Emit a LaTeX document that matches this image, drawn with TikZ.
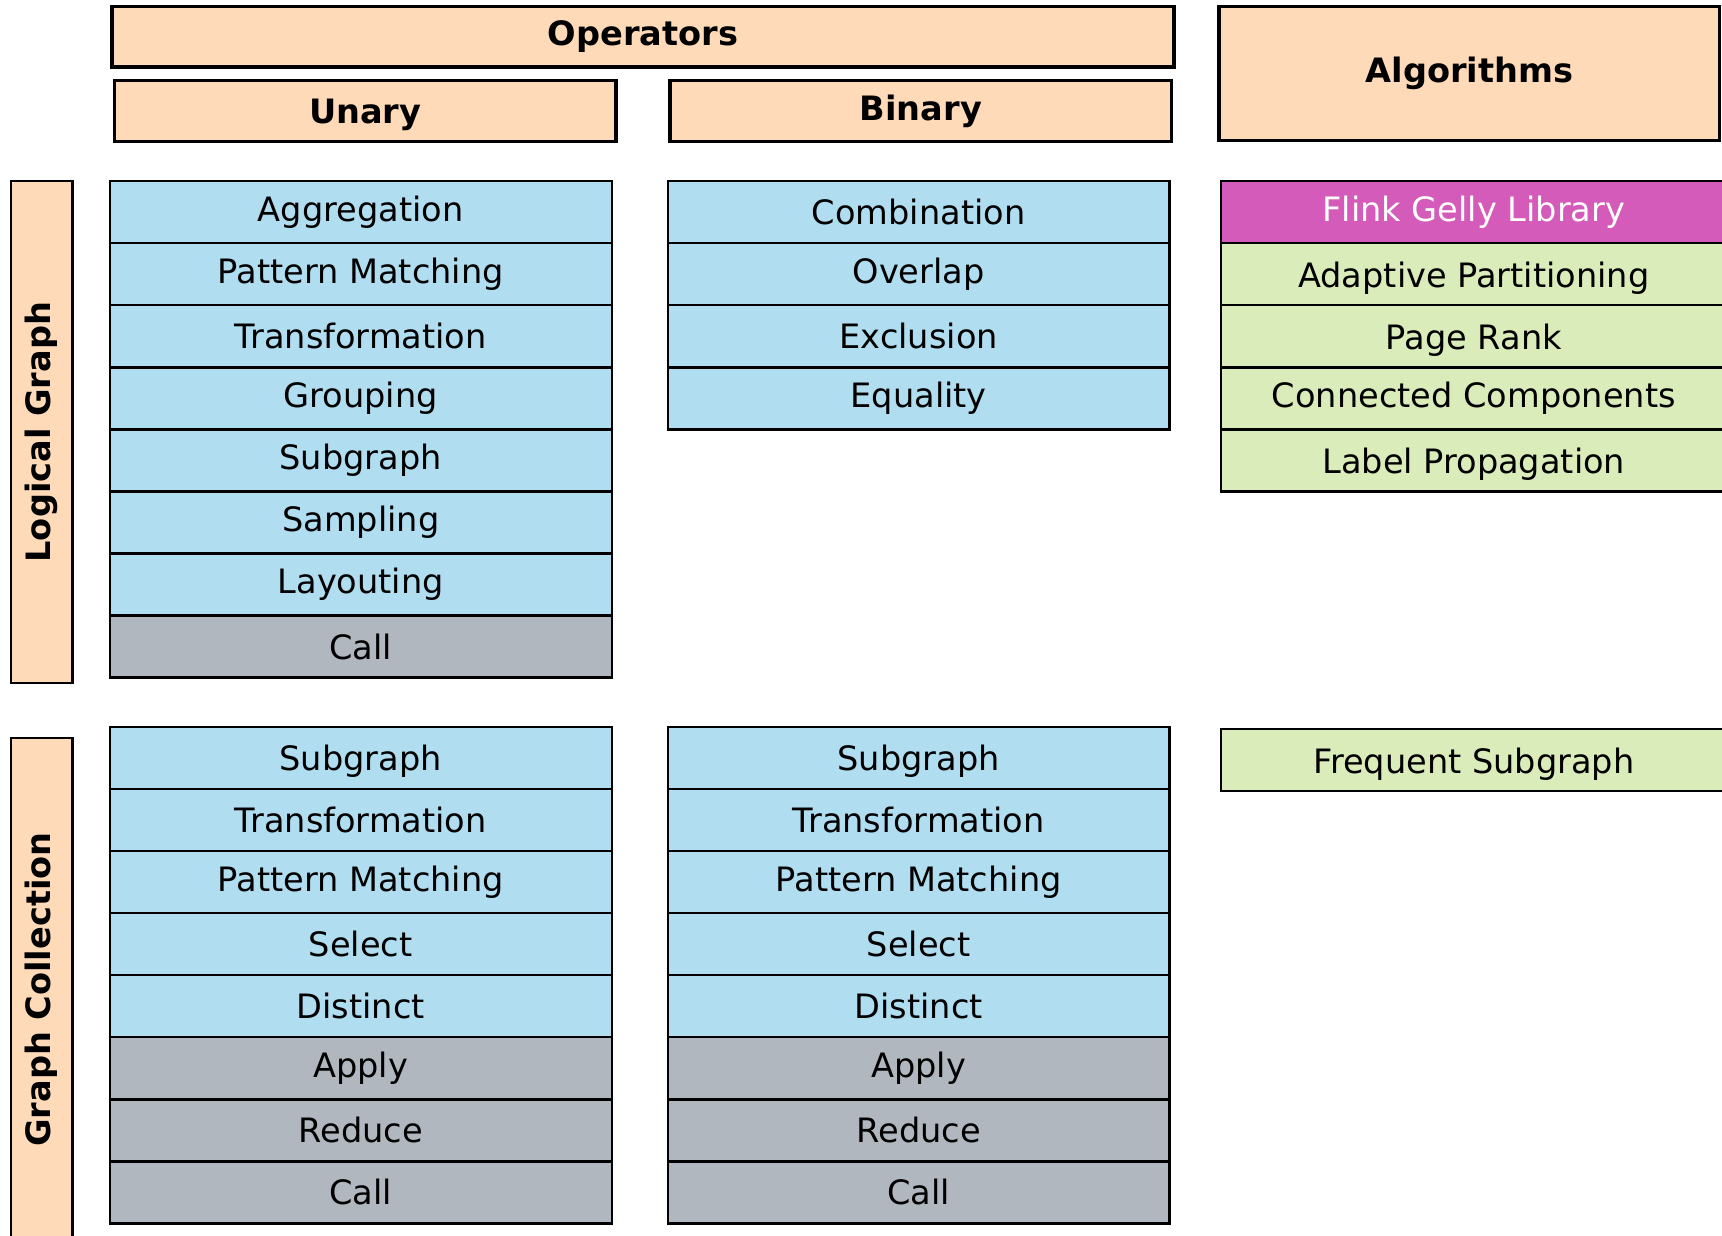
\documentclass[tikz,border=0pt]{standalone}
\usepackage{fontspec}
\setmainfont{DejaVu Sans}
\usetikzlibrary{positioning}

\definecolor{hdrpeach}{RGB}{255,218,185}
\definecolor{opblue}{RGB}{176,221,240}
\definecolor{opgray}{RGB}{176,183,190}
\definecolor{gellypink}{RGB}{213,91,186}
\definecolor{algogreen}{RGB}{219,236,187}

\tikzset{
  cell/.style={draw,line width=0.6pt,minimum width=4.57cm,minimum height=0.565cm,
    inner sep=0pt,outer sep=0pt,font=\fontsize{8.7}{10}\selectfont},
  opcell/.style={cell,fill=opblue},
  callcell/.style={cell,fill=opgray},
  algocell/.style={cell,fill=algogreen,minimum width=4.6cm,text depth=0pt},
  head/.style={draw,line width=0.85pt,fill=hdrpeach,inner sep=0pt,outer sep=0pt,
    font=\fontsize{8.7}{10}\selectfont\bfseries},
  side/.style={draw,line width=0.6pt,fill=hdrpeach,inner sep=0pt,outer sep=0pt,
    minimum height=0.56cm,rotate=90,font=\fontsize{8.7}{10}\selectfont\bfseries},
  node distance=0pt
}

\begin{document}
\begin{tikzpicture}
  \useasboundingbox (0,0) rectangle (15.68,-11.25);
  % headers
  \node[head,minimum width=9.67cm,minimum height=0.55cm] (ops) at (5.855,-0.335) {Operators};
  \node[head,minimum width=4.57cm,minimum height=0.56cm,text depth=0pt] (unary) at (3.325,-1.01) {Unary};
  \node[head,minimum width=4.57cm,minimum height=0.56cm] (binary) at (8.385,-1.01) {Binary};
  \node[head,minimum width=4.56cm,minimum height=1.22cm] (algos) at (13.38,-0.67) {Algorithms};
  \node[side,minimum width=4.57cm] (logical) at (0.38,-3.935) {Logical Graph};
  \node[side,minimum width=4.58cm] (collection) at (0.38,-9.01) {Graph Collection};

  % logical graph, unary
  \node[opcell,anchor=north west] (lgAgg) at (1.00,-1.65) {Aggregation};
  \node[opcell,below=of lgAgg] (lgPattern) {Pattern Matching};
  \node[opcell,below=of lgPattern] (lgTrans) {Transformation};
  \node[opcell,below=of lgTrans] (lgGroup) {Grouping};
  \node[opcell,below=of lgGroup] (lgSub) {Subgraph};
  \node[opcell,below=of lgSub] (lgSample) {Sampling};
  \node[opcell,below=of lgSample] (lgLayout) {Layouting};
  \node[callcell,below=of lgLayout] (lgCall) {Call};

  % logical graph, binary
  \node[opcell,anchor=north west] (lgComb) at (6.08,-1.65) {Combination};
  \node[opcell,below=of lgComb] (lgOverlap) {Overlap};
  \node[opcell,below=of lgOverlap] (lgExcl) {Exclusion};
  \node[opcell,below=of lgExcl] (lgEqual) {Equality};

  % algorithms
  \node[cell,fill=gellypink,text=white,minimum width=4.6cm,anchor=north west] (gelly) at (11.12,-1.65) {Flink Gelly Library};
  \node[algocell,below=of gelly] (adaptive) {Adaptive Partitioning};
  \node[algocell,below=of adaptive] (pagerank) {Page Rank};
  \node[algocell,below=of pagerank,text depth=] (concomp) {Connected Components};
  \node[algocell,below=of concomp] (labelprop) {Label Propagation};
  \node[algocell,anchor=north west] (freqsub) at (11.12,-6.64) {Frequent Subgraph};

  % graph collection, unary
  \node[opcell,anchor=north west,text depth=0pt] (gcSub) at (1.00,-6.62) {Subgraph};
  \node[opcell,below=of gcSub] (gcTrans) {Transformation};
  \node[opcell,below=of gcTrans] (gcPattern) {Pattern Matching};
  \node[opcell,below=of gcPattern] (gcSelect) {Select};
  \node[opcell,below=of gcSelect] (gcDistinct) {Distinct};
  \node[callcell,below=of gcDistinct] (gcApply) {Apply};
  \node[callcell,below=of gcApply] (gcReduce) {Reduce};
  \node[callcell,below=of gcReduce] (gcCall) {Call};

  % graph collection, binary
  \node[opcell,anchor=north west,text depth=0pt] (gcbSub) at (6.08,-6.62) {Subgraph};
  \node[opcell,below=of gcbSub] (gcbTrans) {Transformation};
  \node[opcell,below=of gcbTrans] (gcbPattern) {Pattern Matching};
  \node[opcell,below=of gcbPattern] (gcbSelect) {Select};
  \node[opcell,below=of gcbSelect] (gcbDistinct) {Distinct};
  \node[callcell,below=of gcbDistinct] (gcbApply) {Apply};
  \node[callcell,below=of gcbApply] (gcbReduce) {Reduce};
  \node[callcell,below=of gcbReduce] (gcbCall) {Call};
\end{tikzpicture}
\end{document}
